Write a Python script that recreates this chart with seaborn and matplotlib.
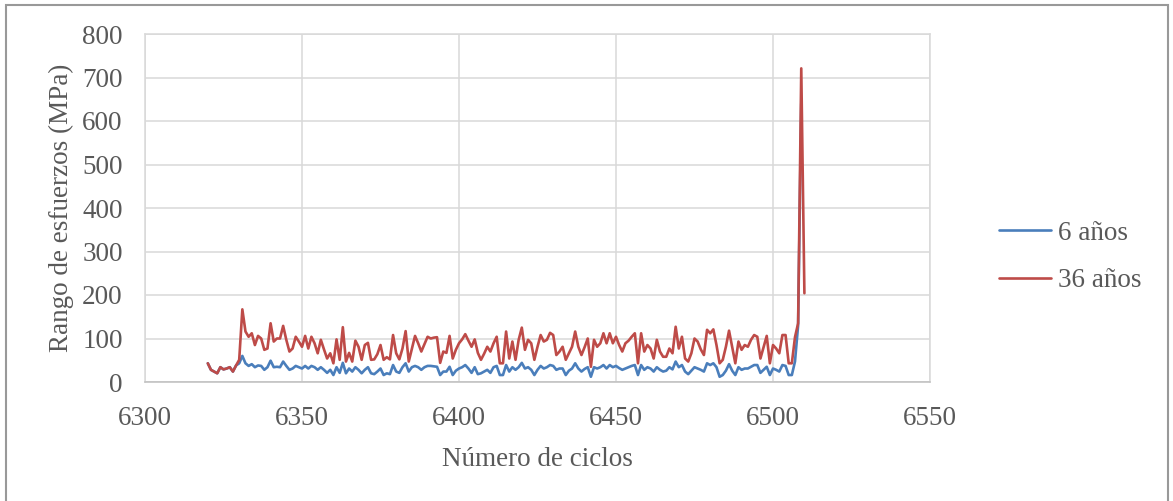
import numpy as np
import pandas as pd
import matplotlib
matplotlib.use("Agg")
import matplotlib.pyplot as plt
import seaborn as sns
from matplotlib.patches import Rectangle

# Cycle numbers (one point per cycle)
cycles = list(range(6320, 6511))

# Stress range for 36 years of service (MPa)
rango_36 = [
    43, 28, 24, 20, 34, 29, 31, 34, 24, 38,
    51, 167, 116, 104, 112, 85, 106, 100, 74, 77,
    135, 93, 100, 100, 129, 97, 70, 77, 104, 93,
    81, 106, 77, 104, 89, 66, 97, 75, 54, 66,
    43, 98, 51, 126, 47, 67, 47, 95, 81, 51,
    85, 90, 51, 52, 64, 85, 51, 57, 52, 108,
    66, 52, 77, 117, 47, 77, 106, 89, 70, 87,
    104, 100, 102, 103, 44, 70, 67, 106, 54, 74,
    89, 98, 110, 95, 81, 98, 67, 51, 65, 81,
    70, 89, 104, 43, 43, 116, 54, 93, 51, 97,
    125, 74, 97, 89, 51, 81, 108, 93, 97, 113,
    108, 62, 70, 81, 51, 66, 81, 116, 81, 62,
    80, 100, 35, 97, 81, 89, 112, 89, 112, 89,
    104, 85, 70, 89, 95, 104, 112, 43, 112, 70,
    85, 77, 54, 97, 70, 58, 58, 77, 66, 127,
    77, 104, 54, 47, 66, 100, 93, 75, 62, 120,
    112, 121, 85, 43, 51, 81, 118, 81, 43, 93,
    74, 85, 81, 97, 108, 104, 54, 80, 106, 43,
    85, 77, 66, 108, 108, 43, 43, 103, 135, 721,
    204,
]

# Stress range for 6 years of service (MPa), ends one cycle earlier
rango_6 = [
    43, 28, 24, 20, 34, 29, 31, 34, 24, 38,
    43, 60, 43, 37, 41, 34, 38, 37, 28, 34,
    49, 34, 35, 34, 47, 37, 28, 31, 37, 34,
    31, 37, 31, 37, 34, 28, 34, 28, 21, 28,
    16, 34, 21, 44, 20, 31, 24, 34, 28, 20,
    28, 34, 20, 18, 24, 31, 16, 20, 18, 39,
    24, 21, 34, 43, 24, 34, 37, 34, 28, 34,
    37, 37, 36, 35, 16, 24, 24, 35, 16, 26,
    31, 34, 39, 31, 21, 34, 18, 20, 24, 28,
    21, 34, 37, 16, 16, 39, 24, 34, 28, 34,
    44, 31, 34, 28, 16, 28, 37, 31, 34, 39,
    37, 28, 31, 31, 16, 26, 31, 43, 31, 24,
    30, 34, 12, 34, 31, 34, 39, 31, 39, 34,
    37, 32, 28, 31, 34, 37, 39, 16, 39, 28,
    34, 31, 24, 34, 28, 24, 26, 34, 29, 47,
    34, 39, 24, 18, 26, 34, 31, 28, 24, 43,
    39, 43, 34, 12, 16, 26, 41, 26, 16, 34,
    28, 31, 31, 35, 39, 39, 21, 28, 35, 16,
    31, 28, 24, 39, 37, 16, 16, 47, 130, 640,
]

series_names = ["6 años", "36 años"]
series_colors = ["#4A7EBB", "#BE4B48"]

df = pd.concat([
    pd.DataFrame({"ciclo": cycles[:len(rango_6)], "rango": rango_6, "serie": series_names[0]}),
    pd.DataFrame({"ciclo": cycles[:len(rango_36)], "rango": rango_36, "serie": series_names[1]}),
], ignore_index=True)

sns.set_theme(style="white")
plt.rcParams["font.family"] = ["Liberation Serif", "DejaVu Serif"]
text_color = "#595959"
grid_color = "#D9D9D9"
fs = 19.5

W, H = 1173, 501
fig = plt.figure(figsize=(W / 100, H / 100), dpi=100)
ax = fig.add_axes([145 / W, 1 - 382 / H, (930 - 145) / W, (382 - 34) / H])

sns.lineplot(data=df, x="ciclo", y="rango", hue="serie", hue_order=series_names,
             palette=series_colors, linewidth=1.9, ax=ax, legend=False,
             estimator=None, sort=True)

ax.set_xlim(6300, 6550)
ax.set_ylim(0, 800)
ax.set_xticks(np.arange(6300, 6551, 50))
ax.set_yticks(np.arange(0, 801, 100))
ax.grid(True, color=grid_color, linewidth=1.1)
ax.set_axisbelow(True)
for side, sp in ax.spines.items():
    sp.set_color(grid_color)
    sp.set_linewidth(1.1)
ax.spines["bottom"].set_color("#BFBFBF")

ax.tick_params(axis="both", length=0, labelsize=fs, labelcolor=text_color)
ax.tick_params(axis="y", pad=16)
ax.tick_params(axis="x", pad=17)

ax.set_xlabel("Número de ciclos", fontsize=fs, color=text_color)
ax.set_ylabel("Rango de esfuerzos (MPa)", fontsize=fs, color=text_color)
ax.xaxis.set_label_coords(0.5, (382 - 447) / 348)
ax.yaxis.set_label_coords((74 - 145) / 785, 0.5)

handles = [plt.Line2D([], [], color=c, linewidth=1.9) for c in series_colors]
fig.legend(handles, series_names, loc="center left",
           bbox_to_anchor=(999 / W, 1 - 257 / H), frameon=False,
           fontsize=fs, labelcolor=text_color, handlelength=52 / (fs * 1.389),
           handletextpad=0.25, labelspacing=0.82, borderpad=0, borderaxespad=0)

# Chart-area border
fig.patches.append(Rectangle((5.5 / W, -0.02), (1168 - 5.5) / W, (H - 5.5) / H + 0.02,
                             transform=fig.transFigure, fill=False,
                             edgecolor="#999999", linewidth=1.5))

fig.savefig("out.png", dpi=100, facecolor="white")
